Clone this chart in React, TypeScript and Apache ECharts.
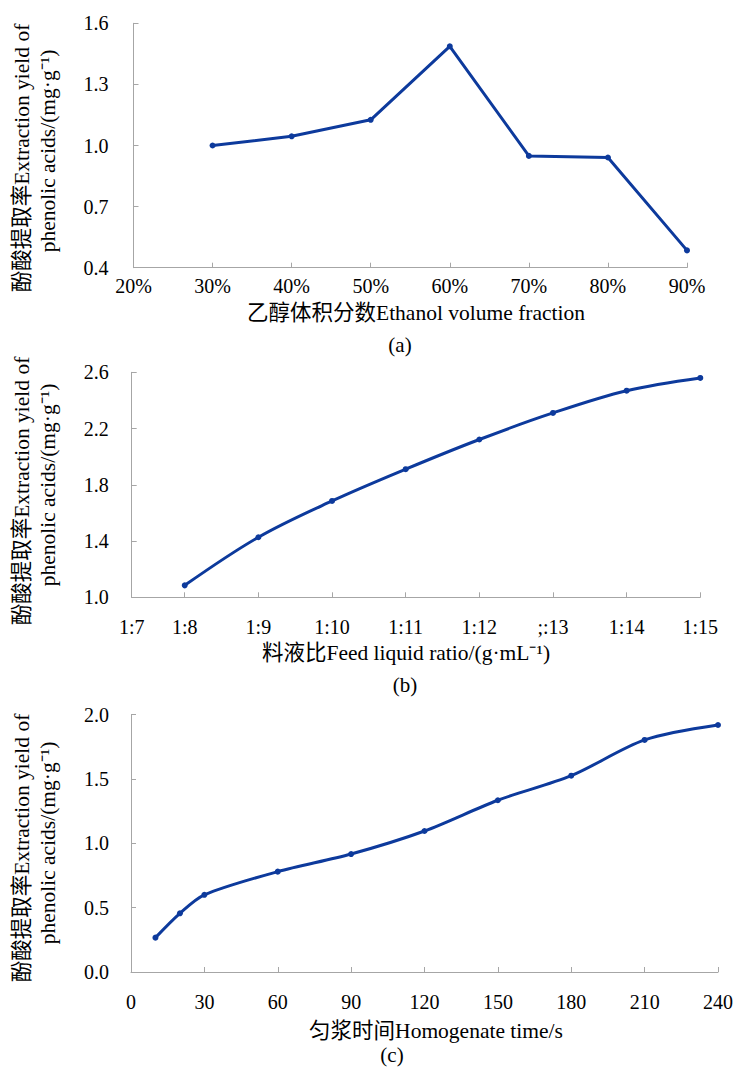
import React, { useEffect, useRef } from "react";
import * as echarts from "echarts";

// ---------- data ----------
const ethanolPct = [30, 40, 50, 60, 70, 80, 90];
const yieldA = [1.0, 1.045, 1.126, 1.487, 0.949, 0.941, 0.485];
const yTicksA = [0.4, 0.7, 1.0, 1.3, 1.6];

const ratioParts = [8, 9, 10, 11, 12, 13, 14, 15];
const yieldB = [1.085, 1.427, 1.685, 1.911, 2.122, 2.311, 2.469, 2.56];
const ratioLabels = ["1:7", "1:8", "1:9", "1:10", "1:11", "1:12", ";:13", "1:14", "1:15"];
const yTicksB = [1.0, 1.4, 1.8, 2.2, 2.6];

const timeS = [10, 20, 30, 60, 90, 120, 150, 180, 210, 240];
const yieldC = [0.267, 0.456, 0.6, 0.78, 0.917, 1.096, 1.335, 1.526, 1.804, 1.92];

const yTitle1 = "酚酸提取率Extraction yield of";
const yTitle2 = "phenolic acids/(mg·g⁻¹)";
const xTitles = ["乙醇体积分数Ethanol volume fraction", "料液比Feed liquid ratio/(g·mL⁻¹)", "匀浆时间Homogenate time/s"];
const captions = ["(a)", "(b)", "(c)"];

const FONT = "'Liberation Serif', 'Times New Roman', 'Noto Sans CJK SC', serif";
const LINE = "#0d3a9c";
const AXIS = "#a6a6a6";
const RATIO_MIN = 7.28;

export default function App() {
  const ref = useRef<HTMLDivElement>(null);
  useEffect(() => {
    document.body.style.margin = "0";
    const chart = echarts.init(ref.current!, null, { renderer: "svg" });

    const axisCommon = {
      axisLine: { show: true, lineStyle: { color: AXIS, width: 1 } },
      axisTick: { show: true, inside: true, length: 5, lineStyle: { color: AXIS } },
      splitLine: { show: false },
    };
    const lblStyle = { color: "#000", fontFamily: FONT, fontSize: 20 };

    const grids = [
      { left: 133.5, top: 23.3, width: 553.5, height: 244.4 },
      { left: 131.7, top: 372.3, width: 568.6, height: 225 },
      { left: 131, top: 714.7, width: 587, height: 257.3 },
    ];

    const xAxes: any[] = [
      {
        gridIndex: 0, type: "value", min: 20, max: 90, interval: 10, ...axisCommon,
        axisLabel: { ...lblStyle, margin: 8, formatter: (v: number) => v + "%" },
      },
      {
        gridIndex: 1, type: "value", min: RATIO_MIN, max: 15, ...axisCommon,
        axisTick: { ...axisCommon.axisTick, customValues: ratioParts },
        axisLabel: {
          ...lblStyle, margin: 20,
          customValues: [RATIO_MIN, ...ratioParts],
          formatter: (v: number) => (v < 7.5 ? ratioLabels[0] : ratioLabels[Math.round(v) - 7]),
        },
      },
      {
        gridIndex: 2, type: "value", min: 0, max: 240, interval: 30, ...axisCommon,
        axisLabel: { ...lblStyle, margin: 20 },
      },
    ];

    const yAxes: any[] = [
      {
        gridIndex: 0, type: "value", min: 0.4, max: 1.6, ...axisCommon,
        axisTick: { ...axisCommon.axisTick, customValues: yTicksA },
        axisLabel: { ...lblStyle, margin: 25, customValues: yTicksA, formatter: (v: number) => v.toFixed(1) },
      },
      {
        gridIndex: 1, type: "value", min: 1.0, max: 2.6, ...axisCommon,
        axisTick: { ...axisCommon.axisTick, customValues: yTicksB },
        axisLabel: { ...lblStyle, margin: 23, customValues: yTicksB, formatter: (v: number) => v.toFixed(1) },
      },
      {
        gridIndex: 2, type: "value", min: 0, max: 2.0, interval: 0.5, ...axisCommon,
        axisLabel: { ...lblStyle, margin: 22, formatter: (v: number) => v.toFixed(1) },
      },
    ];

    const seriesCommon = {
      type: "line",
      symbol: "circle",
      symbolSize: 6,
      lineStyle: { color: LINE, width: 3 },
      itemStyle: { color: LINE },
    };

    const series: any[] = [
      { ...seriesCommon, xAxisIndex: 0, yAxisIndex: 0, smooth: false, data: ethanolPct.map((x, i) => [x, yieldA[i]]) },
      { ...seriesCommon, xAxisIndex: 1, yAxisIndex: 1, smooth: 0.35, data: ratioParts.map((x, i) => [x, yieldB[i]]) },
      { ...seriesCommon, xAxisIndex: 2, yAxisIndex: 2, smooth: 0.3, data: timeS.map((x, i) => [x, yieldC[i]]) },
    ];

    const yTitlePos = [
      { c1: 158, c2: 151 },
      { c1: 491, c2: 485 },
      { c1: 848, c2: 843 },
    ];
    const xTitlePos = [
      { x: 416, y: 313 },
      { x: 406, y: 653 },
      { x: 436, y: 1031 },
    ];
    const capPos = [
      { x: 400, y: 345 },
      { x: 405, y: 685 },
      { x: 392, y: 1055 },
    ];

    const txt = (text: string, x: number, y: number, size: number, rot = 0) => ({
      type: "text",
      x, y,
      rotation: rot,
      style: { text, fill: "#000", font: `${size}px ${FONT}`, align: "center", verticalAlign: "middle" },
    });

    const graphic: any[] = [];
    for (let i = 0; i < 3; i++) {
      graphic.push(txt(yTitle1, 22, yTitlePos[i].c1, 21.5, Math.PI / 2));
      graphic.push(txt(yTitle2, 48, yTitlePos[i].c2, 21.5, Math.PI / 2));
      graphic.push(txt(xTitles[i], xTitlePos[i].x, xTitlePos[i].y, 21.5));
      graphic.push(txt(captions[i], capPos[i].x, capPos[i].y, 21));
    }

    chart.setOption({
      animation: false,
      backgroundColor: "#fff",
      grid: grids,
      xAxis: xAxes,
      yAxis: yAxes,
      series,
      graphic,
    });
    return () => chart.dispose();
  }, []);
  return <div ref={ref} style={{ width: 739, height: 1068 }} />;
}
